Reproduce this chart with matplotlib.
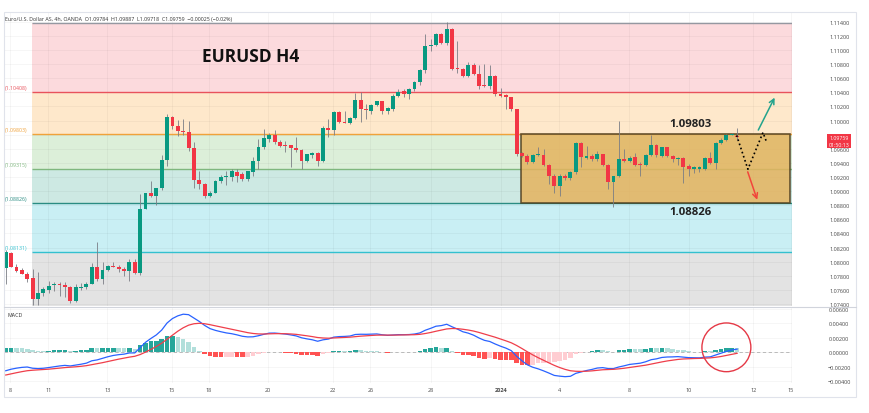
import numpy as np
import matplotlib.pyplot as plt
from matplotlib.patches import Rectangle, Ellipse

plt.rcParams['font.family'] = ['Open Sans', 'DejaVu Sans']

# EURUSD 4h candles
opens = [1.0791, 1.0813, 1.0793, 1.0788, 1.0783, 1.0777, 1.0747, 1.0755, 1.0760, 1.0767,
         1.0768, 1.0767, 1.0764, 1.0744, 1.0762, 1.0764, 1.0769, 1.0793, 1.0775, 1.0788,
         1.0794, 1.0793, 1.0790, 1.0787, 1.0800, 1.0784, 1.0875, 1.0897, 1.0893, 1.0904,
         1.0944, 1.1005, 1.0992, 1.0985, 1.0984, 1.0961, 1.0916, 1.0910, 1.0893, 1.0898,
         1.0915, 1.0920, 1.0920, 1.0927, 1.0924, 1.0917, 1.0927, 1.0942, 1.0962, 1.0974,
         1.0980, 1.0970, 1.0965, 1.0965, 1.0961, 1.0958, 1.0943, 1.0951, 1.0954, 1.0943,
         1.0990, 1.0986, 1.1012, 1.0998, 1.0996, 1.1004, 1.1029, 1.1017, 1.1014, 1.1022,
         1.1027, 1.1014, 1.1017, 1.1035, 1.1042, 1.1038, 1.1044, 1.1054, 1.1071, 1.1106,
         1.1107, 1.1123, 1.1110, 1.1130, 1.1074, 1.1073, 1.1063, 1.1079, 1.1066, 1.1050,
         1.1049, 1.1063, 1.1038, 1.1036, 1.1033, 1.1016, 1.0954, 1.0950, 1.0941, 1.0951,
         1.0951, 1.0937, 1.0922, 1.0907, 1.0922, 1.0918, 1.0927, 1.0968, 1.0947, 1.0950,
         1.0945, 1.0952, 1.0937, 1.0913, 1.0921, 1.0946, 1.0942, 1.0948, 1.0938, 1.0937,
         1.0951, 1.0965, 1.0950, 1.0962, 1.0950, 1.0945, 1.0947, 1.0935, 1.0931, 1.0932,
         1.0932, 1.0947, 1.0940, 1.0968, 1.0973, 1.0980, 1.0978]
highs = [1.0816, 1.0814, 1.0797, 1.0791, 1.0786, 1.0790, 1.0785, 1.0764, 1.0773, 1.0771,
         1.0771, 1.0771, 1.0766, 1.0768, 1.0770, 1.0771, 1.0798, 1.0828, 1.0800, 1.0796,
         1.0799, 1.0795, 1.0792, 1.0804, 1.0804, 1.0896, 1.0897, 1.0915, 1.0905, 1.0951,
         1.1009, 1.1006, 1.1001, 1.1002, 1.0999, 1.0970, 1.0929, 1.0912, 1.0900, 1.0916,
         1.0923, 1.0929, 1.0932, 1.0931, 1.0927, 1.0929, 1.0949, 1.0974, 1.0988, 1.0982,
         1.0986, 1.0973, 1.0971, 1.0965, 1.0976, 1.0960, 1.0953, 1.0956, 1.0955, 1.0992,
         1.1002, 1.1013, 1.1013, 1.1014, 1.1005, 1.1039, 1.1041, 1.1024, 1.1024, 1.1028,
         1.1027, 1.1019, 1.1037, 1.1045, 1.1045, 1.1046, 1.1056, 1.1073, 1.1123, 1.1115,
         1.1124, 1.1124, 1.1139, 1.1131, 1.1113, 1.1074, 1.1083, 1.1082, 1.1078, 1.1080,
         1.1078, 1.1064, 1.1046, 1.1038, 1.1034, 1.1017, 1.0955, 1.0953, 1.0953, 1.0963,
         1.0960, 1.0938, 1.0924, 1.0924, 1.0924, 1.0929, 1.0969, 1.0969, 1.0964, 1.0953,
         1.0957, 1.0953, 1.0938, 1.0922, 1.1000, 1.0960, 1.0950, 1.0954, 1.0941, 1.0953,
         1.0979, 1.0967, 1.0963, 1.0963, 1.0951, 1.0948, 1.0948, 1.0938, 1.0935, 1.0936,
         1.0948, 1.0956, 1.0969, 1.0975, 1.0981, 1.0983, 1.0989]
lows = [1.0768, 1.0792, 1.0786, 1.0782, 1.0771, 1.0738, 1.0738, 1.0752, 1.0756, 1.0759,
        1.0752, 1.0750, 1.0742, 1.0743, 1.0760, 1.0761, 1.0768, 1.0773, 1.0768, 1.0787,
        1.0792, 1.0786, 1.0780, 1.0773, 1.0782, 1.0781, 1.0874, 1.0891, 1.0880, 1.0901,
        1.0936, 1.0988, 1.0978, 1.0980, 1.0957, 1.0905, 1.0903, 1.0890, 1.0891, 1.0897,
        1.0912, 1.0908, 1.0915, 1.0913, 1.0915, 1.0915, 1.0922, 1.0931, 1.0960, 1.0970,
        1.0967, 1.0963, 1.0955, 1.0934, 1.0955, 1.0931, 1.0941, 1.0947, 1.0936, 1.0941,
        1.0976, 1.0979, 1.0997, 1.0996, 1.0995, 1.1002, 1.0998, 1.1002, 1.1009, 1.1021,
        1.1009, 1.1009, 1.1014, 1.1034, 1.1033, 1.1031, 1.1042, 1.1051, 1.1068, 1.1099,
        1.1106, 1.1109, 1.1107, 1.1072, 1.1068, 1.1061, 1.1061, 1.1064, 1.1045, 1.1047,
        1.1045, 1.1035, 1.1034, 1.1017, 1.1014, 1.0950, 1.0948, 1.0938, 1.0940, 1.0950,
        1.0935, 1.0910, 1.0898, 1.0893, 1.0916, 1.0916, 1.0924, 1.0934, 1.0945, 1.0943,
        1.0943, 1.0936, 1.0903, 1.0877, 1.0920, 1.0941, 1.0941, 1.0935, 1.0922, 1.0936,
        1.0950, 1.0949, 1.0949, 1.0948, 1.0941, 1.0937, 1.0912, 1.0922, 1.0925, 1.0927,
        1.0930, 1.0938, 1.0931, 1.0967, 1.0971, 1.0979, 1.0972]
closes = [1.0814, 1.0793, 1.0787, 1.0783, 1.0776, 1.0747, 1.0755, 1.0761, 1.0766, 1.0768,
          1.0767, 1.0764, 1.0744, 1.0764, 1.0764, 1.0769, 1.0793, 1.0775, 1.0788, 1.0794,
          1.0793, 1.0789, 1.0787, 1.0800, 1.0784, 1.0875, 1.0897, 1.0893, 1.0904, 1.0944,
          1.1005, 1.0992, 1.0985, 1.0984, 1.0961, 1.0916, 1.0910, 1.0893, 1.0898, 1.0915,
          1.0920, 1.0922, 1.0928, 1.0922, 1.0917, 1.0928, 1.0942, 1.0962, 1.0975, 1.0980,
          1.0969, 1.0964, 1.0964, 1.0961, 1.0958, 1.0943, 1.0952, 1.0954, 1.0943, 1.0990,
          1.0986, 1.1012, 1.0998, 1.0997, 1.1004, 1.1029, 1.1016, 1.1015, 1.1022, 1.1027,
          1.1014, 1.1018, 1.1035, 1.1041, 1.1038, 1.1045, 1.1055, 1.1071, 1.1106, 1.1107,
          1.1123, 1.1110, 1.1130, 1.1073, 1.1073, 1.1063, 1.1079, 1.1066, 1.1049, 1.1049,
          1.1063, 1.1038, 1.1035, 1.1033, 1.1016, 1.0953, 1.0950, 1.0941, 1.0951, 1.0953,
          1.0937, 1.0922, 1.0907, 1.0922, 1.0918, 1.0927, 1.0968, 1.0948, 1.0950, 1.0946,
          1.0952, 1.0937, 1.0913, 1.0921, 1.0946, 1.0942, 1.0947, 1.0937, 1.0937, 1.0951,
          1.0965, 1.0951, 1.0962, 1.0950, 1.0945, 1.0947, 1.0934, 1.0931, 1.0934, 1.0934,
          1.0947, 1.0940, 1.0968, 1.0973, 1.0980, 1.0981, 1.0976]

# MACD(12, 26, 9) starting state read at the left edge of the pane
ema_fast_start = 1.0790
macd_start = -0.00254
signal_start = -0.00313

fib_levels = [1.11389, 1.10408, 1.09803, 1.09315, 1.08826, 1.08131]
fib_low = 1.07233
fib_line_colors = ['#9598a1', '#e8525c', '#f0a23a', '#7fb77e', '#2a8c82', '#33c0cf']
fib_fill_colors = ['#fcdadd', '#fee8cb', '#dcefd9', '#cde9e3', '#c9eff4', '#e3e3e3']
fib_start = 4.8

box_top = 1.09803
box_bottom = 1.08826
box_start = 95.9

price_ticks = np.round(np.arange(1.074, 1.1141, 0.002), 3)
macd_ticks = [-0.004, -0.002, 0.0, 0.002, 0.004, 0.006]
date_pos = [0.8, 7.9, 18.9, 30.9, 37.8, 48.8, 60.8, 67.8, 79.0, 92.1, 102.9, 115.9, 127.0, 139.0, 146.0]
date_labels = ['8', '11', '13', '15', '18', '20', '22', '26', '28', '2024', '4', '8', '10', '12', '15']

up_color = '#089981'
down_color = '#f23645'

# indicator
a_f, a_s, a_sig = 2 / 13, 2 / 27, 2 / 10
ema_f = ema_fast_start
ema_s = ema_fast_start - macd_start
sig = signal_start
macd = [macd_start]
signal = [signal_start]
for c in closes[1:]:
    ema_f += a_f * (c - ema_f)
    ema_s += a_s * (c - ema_s)
    m = ema_f - ema_s
    sig += a_sig * (m - sig)
    macd.append(m)
    signal.append(sig)
macd = np.array(macd)
signal = np.array(signal)
hist = macd - signal

W, H = 870, 414
fig = plt.figure(figsize=(W / 100, H / 100), dpi=100)


def frame(x0, y0, x1, y1):
    return [x0 / W, 1 - y1 / H, (x1 - x0) / W, (y1 - y0) / H]


ax = fig.add_axes(frame(4, 13, 792, 307))
axm = fig.add_axes(frame(4, 308, 792, 384), sharex=ax)

x = np.arange(len(closes))
xr = 146.2
ax.set_xlim(-0.32, xr)
ax.set_ylim(1.07372, 1.11538)
axm.set_ylim(-0.00423, 0.00625)

# fib zones
bounds = fib_levels + [fib_low]
for k in range(len(fib_levels)):
    ax.add_patch(Rectangle((fib_start, bounds[k + 1]), xr - fib_start, bounds[k] - bounds[k + 1],
                           facecolor=fib_fill_colors[k], edgecolor='none', zorder=0.5))
    ax.hlines(fib_levels[k], fib_start, xr, color=fib_line_colors[k], lw=1.0, zorder=1.5)
    if k > 0:
        ax.annotate(f'({fib_levels[k]:.5f})', xy=(0.001, fib_levels[k]),
                    xycoords=('axes fraction', 'data'), xytext=(0, 1.5),
                    textcoords='offset points', fontsize=3.8, color=fib_line_colors[k],
                    ha='left', va='bottom')

# grid
for v in price_ticks:
    ax.axhline(v, color='#000000', alpha=0.045, lw=0.6, zorder=1.2)
for t in date_pos:
    ax.axvline(t, color='#000000', alpha=0.045, lw=0.6, zorder=1.2)
    axm.axvline(t, color='#000000', alpha=0.045, lw=0.6, zorder=0.5)
for v in macd_ticks:
    axm.axhline(v, color='#000000', alpha=0.045, lw=0.6, zorder=0.5)

# range box
ax.add_patch(Rectangle((box_start, box_bottom), xr - 0.4 - box_start, box_top - box_bottom,
                       facecolor='#e5b35e', alpha=0.85, edgecolor='#4d3d1f', lw=1.2, zorder=2))

# candles
o = np.array(opens)
c = np.array(closes)
up = c >= o
cols = np.where(up, up_color, down_color)
ax.vlines(x, lows, highs, color='#7a7d85', lw=0.6, zorder=3)
ax.bar(x, np.maximum(np.abs(c - o), 0.00004), 0.72, bottom=np.minimum(o, c),
       color=cols, lw=0, zorder=4)

# drawings
ax.text(45.5, 1.1091, 'EURUSD H4', fontsize=12.5, fontweight='bold', color='#111111',
        ha='center', va='center')
ax.text(127.4, 1.09951, '1.09803', fontsize=8.2, fontweight='bold', color='#222222',
        ha='center', va='center', zorder=6)
ax.text(127.4, 1.08704, '1.08826', fontsize=8.2, fontweight='bold', color='#222222',
        ha='center', va='center', zorder=6)
ax.plot([135.9, 138.0, 140.8, 141.4], [1.0979, 1.0931, 1.0983, 1.0971],
        color='black', lw=1.2, ls=(0, (1, 1.6)), zorder=5)
ax.annotate('', xy=(143.2, 1.1036), xytext=(139.7, 1.0983),
            arrowprops=dict(arrowstyle='->', color='#22a38c', lw=1.1, mutation_scale=9), zorder=5)
ax.annotate('', xy=(139.9, 1.0884), xytext=(137.8, 1.0931),
            arrowprops=dict(arrowstyle='->', color='#f2453b', lw=1.1, mutation_scale=9), zorder=5)

# last price label
ax.annotate('1.09759\n01:50:13', xy=(1.0, closes[-1]), xycoords=('axes fraction', 'data'),
            xytext=(34, -2.5), textcoords='offset points', ha='center', va='center',
            fontsize=3.8, color='white', linespacing=1.3, annotation_clip=False,
            bbox=dict(boxstyle='square,pad=0.35', fc='#f23645', ec='none'))

# MACD pane
hcol = []
for i, v in enumerate(hist):
    prev = hist[i - 1] if i > 0 else v
    if v >= 0:
        hcol.append('#26a69a' if v >= prev else '#b2dfdb')
    else:
        hcol.append('#ff5252' if v < prev else '#ffcdd2')
axm.bar(x, hist, 0.85, color=hcol, lw=0, zorder=2)
axm.plot(x, macd, color='#2962ff', lw=0.9, zorder=3)
axm.plot(x, signal, color='#ef3e4a', lw=0.9, zorder=3)
axm.axhline(0, color='#b0b0b0', ls=(0, (4, 3)), lw=0.6, zorder=1)
axm.add_patch(Ellipse((134.0, 0.00069), 9.1, 0.00672, fill=False, ec='#e53946', lw=1.0, zorder=4))
axm.text(0.005, 0.93, 'MACD', transform=axm.transAxes, fontsize=3.8, color='#333333', va='top')

# axes styling
for a in (ax, axm):
    for s in a.spines.values():
        s.set_visible(False)
    a.yaxis.tick_right()
ax.set_yticks(price_ticks, labels=[f'{v:.5f}' for v in price_ticks])
axm.set_yticks(macd_ticks, labels=[f'{v:.5f}'.replace('-', '\u2212') for v in macd_ticks])
for a in (ax, axm):
    a.tick_params(axis='y', length=0, pad=34, labelsize=4, labelcolor='#4a4a4a')
    for lab in a.get_yticklabels():
        lab.set_horizontalalignment('center')
axm.set_xticks(date_pos, labels=date_labels)
ax.tick_params(axis='x', length=0, labelbottom=False)
axm.tick_params(axis='x', length=0, pad=3, labelsize=4, labelcolor='#4a4a4a')
axm.get_xticklabels()[9].set_fontweight('bold')

fig.text(5 / W, 1 - 19 / H,
         'Euro/U.S. Dollar AS, 4h, OANDA  O1.09784  H1.09887  L1.09718  C1.09759  \u22120.00025 (\u22120.02%)',
         fontsize=3.8, color='#333333', va='center')
fig.add_artist(Rectangle((4 / W, 1 - 398 / H), 852 / W, 385.3 / H, transform=fig.transFigure,
                         fill=False, ec='#e0e3eb', lw=0.8))
fig.add_artist(plt.Line2D([4 / W, 856 / W], [1 - 307.5 / H] * 2, transform=fig.transFigure,
                          color='#d1d4dc', lw=0.8))

fig.savefig('out.png', dpi=100)
